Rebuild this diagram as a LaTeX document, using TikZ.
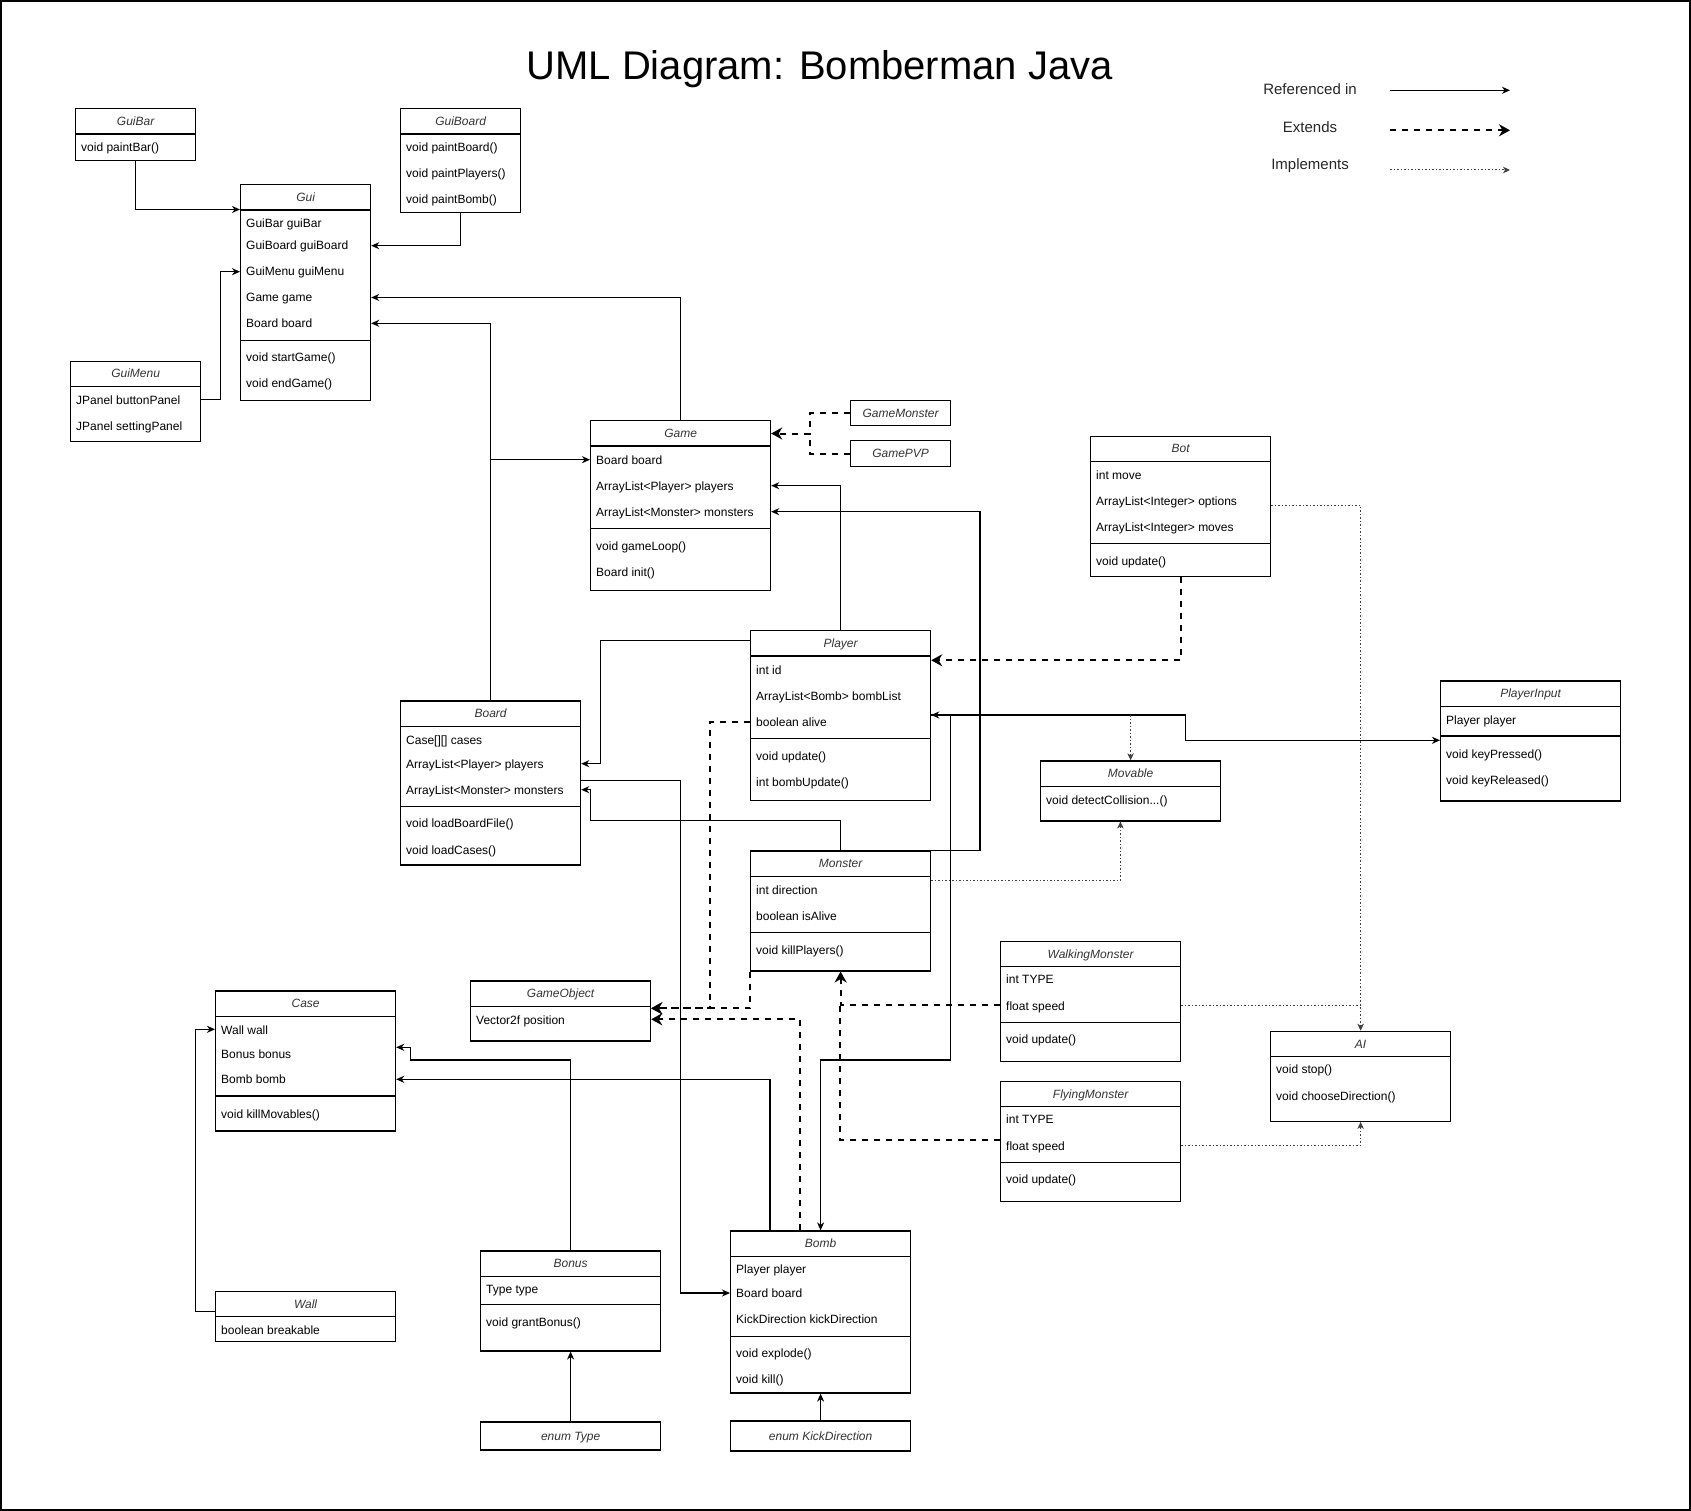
\documentclass[tikz,border=0pt]{standalone}
\usepackage{fontspec}
\setmainfont{Liberation Sans}
\usetikzlibrary{arrows.meta,calc}
\tikzset{
  clsbox/.style={draw, line width=1.2pt, inner sep=0pt, rectangle},
  sepline/.style={line width=1.2pt},
  rowtxt/.style={anchor=base west, inner sep=0pt, font=\fontsize{12}{14}\selectfont},
  hdrtxt/.style={anchor=base, inner sep=0pt, text=black!80, font=\fontsize{12}{14}\selectfont\itshape},
  legtxt/.style={anchor=base, inner sep=0pt, text=black!85, font=\fontsize{15}{18}\selectfont},
  refline/.style={draw, line width=1.2pt},
  refarr/.style={refline, -{Stealth[length=8pt,width=7pt,inset=2.5pt]}},
  extline/.style={draw, line width=2pt, dash pattern=on 6pt off 6pt},
  extarr/.style={extline, -{Stealth[length=11pt,width=12pt,inset=3.5pt]}},
  impline/.style={draw, line width=1pt, black!75, dash pattern=on 1.5pt off 2pt},
  implarr/.style={impline, -{Stealth[length=7pt,width=6.5pt,inset=2pt]}},
}
% name, x, y, w, h, title
\newcommand\ucls[6]{%
  \node[clsbox, minimum width=#4pt, minimum height=#5pt, anchor=north west] (#1) at (#2,#3) {};
  \draw[sepline] ([yshift=-26pt]#1.north west) -- ([yshift=-26pt]#1.north east);
  \node[hdrtxt] (#1-title) at ([yshift=-17.3pt]#1.north) {#6};
}
% name, x, y, w, h, text (single-line box)
\newcommand\usingle[6]{%
  \node[clsbox, minimum width=#4pt, minimum height=#5pt, anchor=north west] (#1) at (#2,#3) {};
  \node[hdrtxt] (#1-title) at ([yshift=-4.3pt]#1.center) {#6};
}
\newcommand\usep[2]{\draw[sepline] (#1.west |- 0,#2) -- (#1.east |- 0,#2);}
\newcommand\urow[3]{\node[rowtxt] at ([shift={(6,4.3)}]#1,#2) {#3};}

\begin{document}
\begin{tikzpicture}[x=1pt,y=-1pt]
\useasboundingbox (0,0) rectangle (1691,1511);
\draw[line width=2pt] (1,1) rectangle (1690,1510);

% title
\node[anchor=base, inner sep=0pt, font=\fontsize{40}{48}\selectfont] (title) at (819.6,80) {UML Diagram: Bomberman Java};

% legend
\node[legtxt] (lref) at (1310,95) {Referenced in};
\node[legtxt] (lext) at (1310,133) {Extends};
\node[legtxt] (limp) at (1310,169.5) {Implements};
\coordinate (lrefA) at (1390,90.3);
\coordinate (lrefB) at (1510,90.3);
\coordinate (lextA) at (1390,130.3);
\coordinate (lextB) at (1510,130.3);
\coordinate (limpA) at (1390,170);
\coordinate (limpB) at (1510,170);
\draw[refarr] (lrefA) -- (lrefB);
\draw[extarr] (lextA) -- (lextB);
\draw[implarr] (limpA) -- (limpB);

% GuiBar
\ucls{GuiBar}{75}{108}{120}{52}{GuiBar}
\urow{75}{147.3}{void paintBar()}

% GuiBoard
\ucls{GuiBoard}{400}{108}{120}{104}{GuiBoard}
\urow{400}{147.7}{void paintBoard()}
\urow{400}{173.7}{void paintPlayers()}
\urow{400}{199.7}{void paintBomb()}

% Gui
\ucls{Gui}{240}{184}{130}{216}{Gui}
\urow{240}{223.5}{GuiBar guiBar}
\urow{240}{245.3}{GuiBoard guiBoard}
\urow{240}{271.2}{GuiMenu guiMenu}
\urow{240}{297.2}{Game game}
\urow{240}{323}{Board board}
\usep{Gui}{340.3}
\urow{240}{357.5}{void startGame()}
\urow{240}{383.5}{void endGame()}

% GuiMenu
\ucls{GuiMenu}{70}{360.5}{130}{80}{GuiMenu}
\urow{70}{399.7}{JPanel buttonPanel}
\urow{70}{425.7}{JPanel settingPanel}

% Game
\ucls{Game}{590}{420}{180}{170}{Game}
\urow{590}{459.7}{Board board}
\urow{590}{485.7}{ArrayList<Player> players}
\urow{590}{511.7}{ArrayList<Monster> monsters}
\usep{Game}{528.3}
\urow{590}{545.7}{void gameLoop()}
\urow{590}{571.7}{Board init()}

% GameMonster, GamePVP
\usingle{GameMonster}{850}{400}{100}{25}{GameMonster}
\usingle{GamePVP}{850}{440}{100}{26}{GamePVP}

% Bot
\ucls{Bot}{1090}{435.5}{180}{140}{Bot}
\urow{1090}{474.7}{int move}
\urow{1090}{500.7}{ArrayList<Integer> options}
\urow{1090}{526.7}{ArrayList<Integer> moves}
\usep{Bot}{543.3}
\urow{1090}{560.7}{void update()}

% Player
\ucls{Player}{750}{630}{180}{170}{Player}
\urow{750}{669.7}{int id}
\urow{750}{695.7}{ArrayList<Bomb> bombList}
\urow{750}{721.7}{boolean alive}
\usep{Player}{738.3}
\urow{750}{755.7}{void update()}
\urow{750}{781.7}{int bombUpdate()}

% Board
\ucls{Board}{400}{700.3}{180}{164}{Board}
\urow{400}{739.7}{Case[][] cases}
\urow{400}{763.7}{ArrayList<Player> players}
\urow{400}{789.7}{ArrayList<Monster> monsters}
\usep{Board}{806.3}
\urow{400}{823}{void loadBoardFile()}
\urow{400}{849.7}{void loadCases()}

% PlayerInput
\ucls{PlayerInput}{1440}{680.3}{180}{120}{PlayerInput}
\urow{1440}{719.7}{Player player}
\usep{PlayerInput}{736}
\urow{1440}{753.7}{void keyPressed()}
\urow{1440}{779.7}{void keyReleased()}

% Movable
\ucls{Movable}{1040}{760.3}{180}{60}{Movable}
\urow{1040}{799.7}{void detectCollision...()}

% Monster
\ucls{Monster}{750}{850.3}{180}{120}{Monster}
\urow{750}{889.7}{int direction}
\urow{750}{915.7}{boolean isAlive}
\usep{Monster}{932.3}
\urow{750}{949.7}{void killPlayers()}

% GameObject
\ucls{GameObject}{470}{980.3}{180}{60}{GameObject}
\urow{470}{1019.7}{Vector2f position}

% Case
\ucls{Case}{215}{990.3}{180}{140}{Case}
\urow{215}{1029.7}{Wall wall}
\urow{215}{1053.7}{Bonus bonus}
\urow{215}{1079.3}{Bomb bomb}
\usep{Case}{1096}
\urow{215}{1114}{void killMovables()}

% WalkingMonster
\ucls{WalkingMonster}{1000}{940.7}{180}{120}{WalkingMonster}
\urow{1000}{979.6}{int TYPE}
\urow{1000}{1005.7}{float speed}
\usep{WalkingMonster}{1022.5}
\urow{1000}{1039.6}{void update()}

% AI
\ucls{AI}{1270}{1030.7}{180}{90}{AI}
\urow{1270}{1069.6}{void stop()}
\urow{1270}{1095.7}{void chooseDirection()}

% FlyingMonster
\ucls{FlyingMonster}{1000}{1080.7}{180}{120}{FlyingMonster}
\urow{1000}{1119.6}{int TYPE}
\urow{1000}{1145.7}{float speed}
\usep{FlyingMonster}{1162.5}
\urow{1000}{1179.6}{void update()}

% Bomb
\ucls{Bomb}{730}{1230.4}{180}{162}{Bomb}
\urow{730}{1269.6}{Player player}
\urow{730}{1293.6}{Board board}
\urow{730}{1319.6}{KickDirection kickDirection}
\usep{Bomb}{1336.4}
\urow{730}{1353.6}{void explode()}
\urow{730}{1379.6}{void kill()}

% Bonus
\ucls{Bonus}{480}{1250.3}{180}{100}{Bonus}
\urow{480}{1289.3}{Type type}
\usep{Bonus}{1304.3}
\urow{480}{1321.7}{void grantBonus()}

% Wall
\ucls{Wall}{215}{1290.7}{180}{50}{Wall}
\urow{215}{1329.7}{boolean breakable}

% enums
\usingle{TypeEnum}{480}{1421.3}{180}{28}{enum Type}
\usingle{KickEnum}{730}{1420.4}{180}{30}{enum KickDirection}

% ---------- connectors ----------
\draw[refarr] (GuiBar.south) |- (Gui.west |- 0,209.5);
\draw[refarr] (GuiBoard.south) |- (Gui.east |- 0,245.7);
\draw[refarr] (GuiMenu.east |- 0,399.3) -- (220.4,399.3) |- (Gui.west |- 0,271.7);
\draw[refarr] (Game.north) |- (Gui.east |- 0,297.5);
\draw[refarr] (Board.north) |- (Gui.east |- 0,323.3);
\draw[refarr] (Board.north |- 0,459.7) -- (Game.west |- 0,459.7);

\draw[extarr] (GameMonster.west) -- (809.7,0 |- GameMonster.west) |- (Game.east |- 0,433.5);
\draw[extline] (GamePVP.west) -| (809.7,433.5);

\draw[refarr] (Player.north) |- (Game.east |- 0,485.7);
\draw[refarr] (Monster.north east) -- (980,0 |- Monster.north east) |- (Game.east |- 0,511.7);

\draw[extarr] (Bot.south) |- (Player.east |- 0,660.3);
\draw[implarr] (Bot.east |- 0,505.3) -| (AI.north);

\draw[refarr] (Player.east |- 0,715) -- (1185.3,715) |- (PlayerInput.west |- 0,740.3);
\draw[implarr] (Movable.north |- 0,715) -- (Movable.north);
\draw[refline, {Stealth[length=8pt,width=7pt,inset=2.5pt]}-{Stealth[length=8pt,width=7pt,inset=2.5pt]}]
  (Bomb.north) |- (950.5,1060) -- (950.5,715) -- (Player.east |- 0,715);

\draw[refarr] (Player.west |- 0,640.3) -- (600.4,640.3) |- (Board.east |- 0,763.7);
\draw[refarr] (Monster.north) |- (590.5,820.3) |- (Board.east |- 0,789.7);
\draw[refarr] (Board.east |- 0,780.3) -- (680.5,780.3) |- (Bomb.west |- 0,1293);

\draw[extarr] (Player.west |- 0,721.7) -- (710.3,721.7) |- (GameObject.east |- 0,1008.3);
\draw[extarr] (Monster.south west) |- (GameObject.east |- 0,1008.3);
\draw[extarr] (800.3,0 |- Bomb.north) |- (GameObject.east |- 0,1019.3);

\draw[extarr] (WalkingMonster.west |- 0,1004.8) -| (Monster.south);
\draw[extline] (FlyingMonster.west |- 0,1140.4) -| (840,1004.8);
\draw[impline] (WalkingMonster.east |- 0,1005.4) -- (AI.north |- 0,1005.4);
\draw[implarr] (FlyingMonster.east |- 0,1145.4) -| (AI.south);
\draw[implarr] (Monster.east |- 0,880) -| (1120.4,0 |- Movable.south);

\draw[refarr] (Bonus.north) |- (410.7,1060) |- (Case.east |- 0,1047.3);
\draw[refarr] (770,0 |- Bomb.north) |- (Case.east |- 0,1079.3);
\draw[refarr] (Wall.west |- 0,1311.7) -- (195.4,1311.7) |- (Case.west |- 0,1029.3);
\draw[refarr] (TypeEnum.north) -- (Bonus.south);
\draw[refarr] (KickEnum.north) -- (Bomb.south);
\end{tikzpicture}
\end{document}
